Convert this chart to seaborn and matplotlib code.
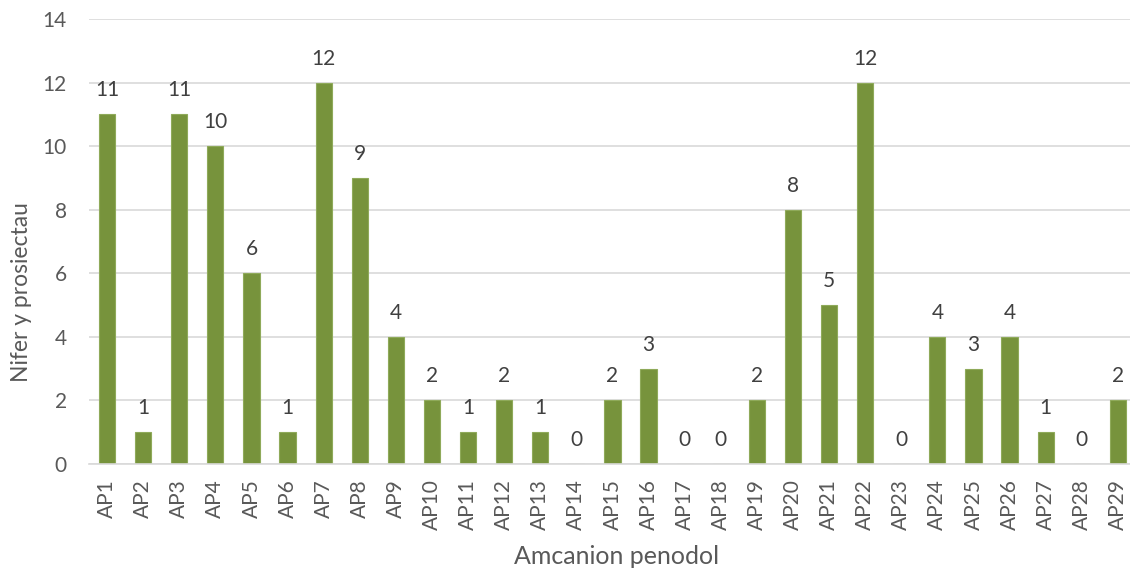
import matplotlib
matplotlib.use("Agg")
import matplotlib.pyplot as plt
import seaborn as sns
import pandas as pd

categories = [f"AP{i}" for i in range(1, 30)]
values = [11, 1, 11, 10, 6, 1, 12, 9, 4, 2, 1, 2, 1, 0, 2, 3, 0, 0, 2, 8, 5, 12, 0, 4, 3, 4, 1, 0, 2]
y_ticks = [0, 2, 4, 6, 8, 10, 12, 14]

sns.set_theme(style="white")
plt.rcParams['font.family'] = ['Lato', 'DejaVu Sans']

df = pd.DataFrame({"cat": categories, "val": values})

W, H = 1130, 569
fig = plt.figure(figsize=(W / 100, H / 100), dpi=100)
left, right_px = 89, 89 + 29 * 36.1
bottom_px, top_px = 105, 550
ax = fig.add_axes([left / W, bottom_px / H, (right_px - left) / W, (top_px - bottom_px) / H])

sns.barplot(data=df, x="cat", y="val", color="#77933C", width=0.45, ax=ax,
            saturation=1, edgecolor="#8FAA5A", linewidth=0.8)

ax.set_ylim(0, 14)
ax.set_xlim(-0.5, len(categories) - 0.5)
ax.set_yticks(y_ticks)
ax.yaxis.grid(True, color="#D9D9D9", linewidth=1.2)
ax.set_axisbelow(True)
for s in ["top", "right", "left"]:
    ax.spines[s].set_visible(False)
ax.spines["bottom"].set_color("#D9D9D9")
ax.spines["bottom"].set_linewidth(1.2)
ax.tick_params(axis="both", length=0, colors="#595959", labelsize=15)
ax.tick_params(axis="y", pad=16)
ax.tick_params(axis="x", pad=11)
plt.setp(ax.get_xticklabels(), rotation=90)

for i, v in enumerate(values):
    ax.annotate(str(v), (i, v), xytext=(0, 13), textcoords="offset points",
                ha="center", va="baseline", fontsize=15, color="#404040")

ax.set_xlabel("Amcanion penodol", fontsize=18, color="#595959")
ax.set_ylabel("Nifer y prosiectau", fontsize=16.5, color="#595959")
# label positions in figure pixels converted to axes coords
axw, axh = right_px - left, top_px - bottom_px
ax.xaxis.set_label_coords((617 - left) / axw, ((569 - 556) - bottom_px) / axh)
ax.yaxis.set_label_coords((22 - left) / axw, ((569 - 292) - bottom_px) / axh)
ax.xaxis.label.set_va("center")
ax.yaxis.label.set_va("center")

fig.savefig("out.png", dpi=100)
